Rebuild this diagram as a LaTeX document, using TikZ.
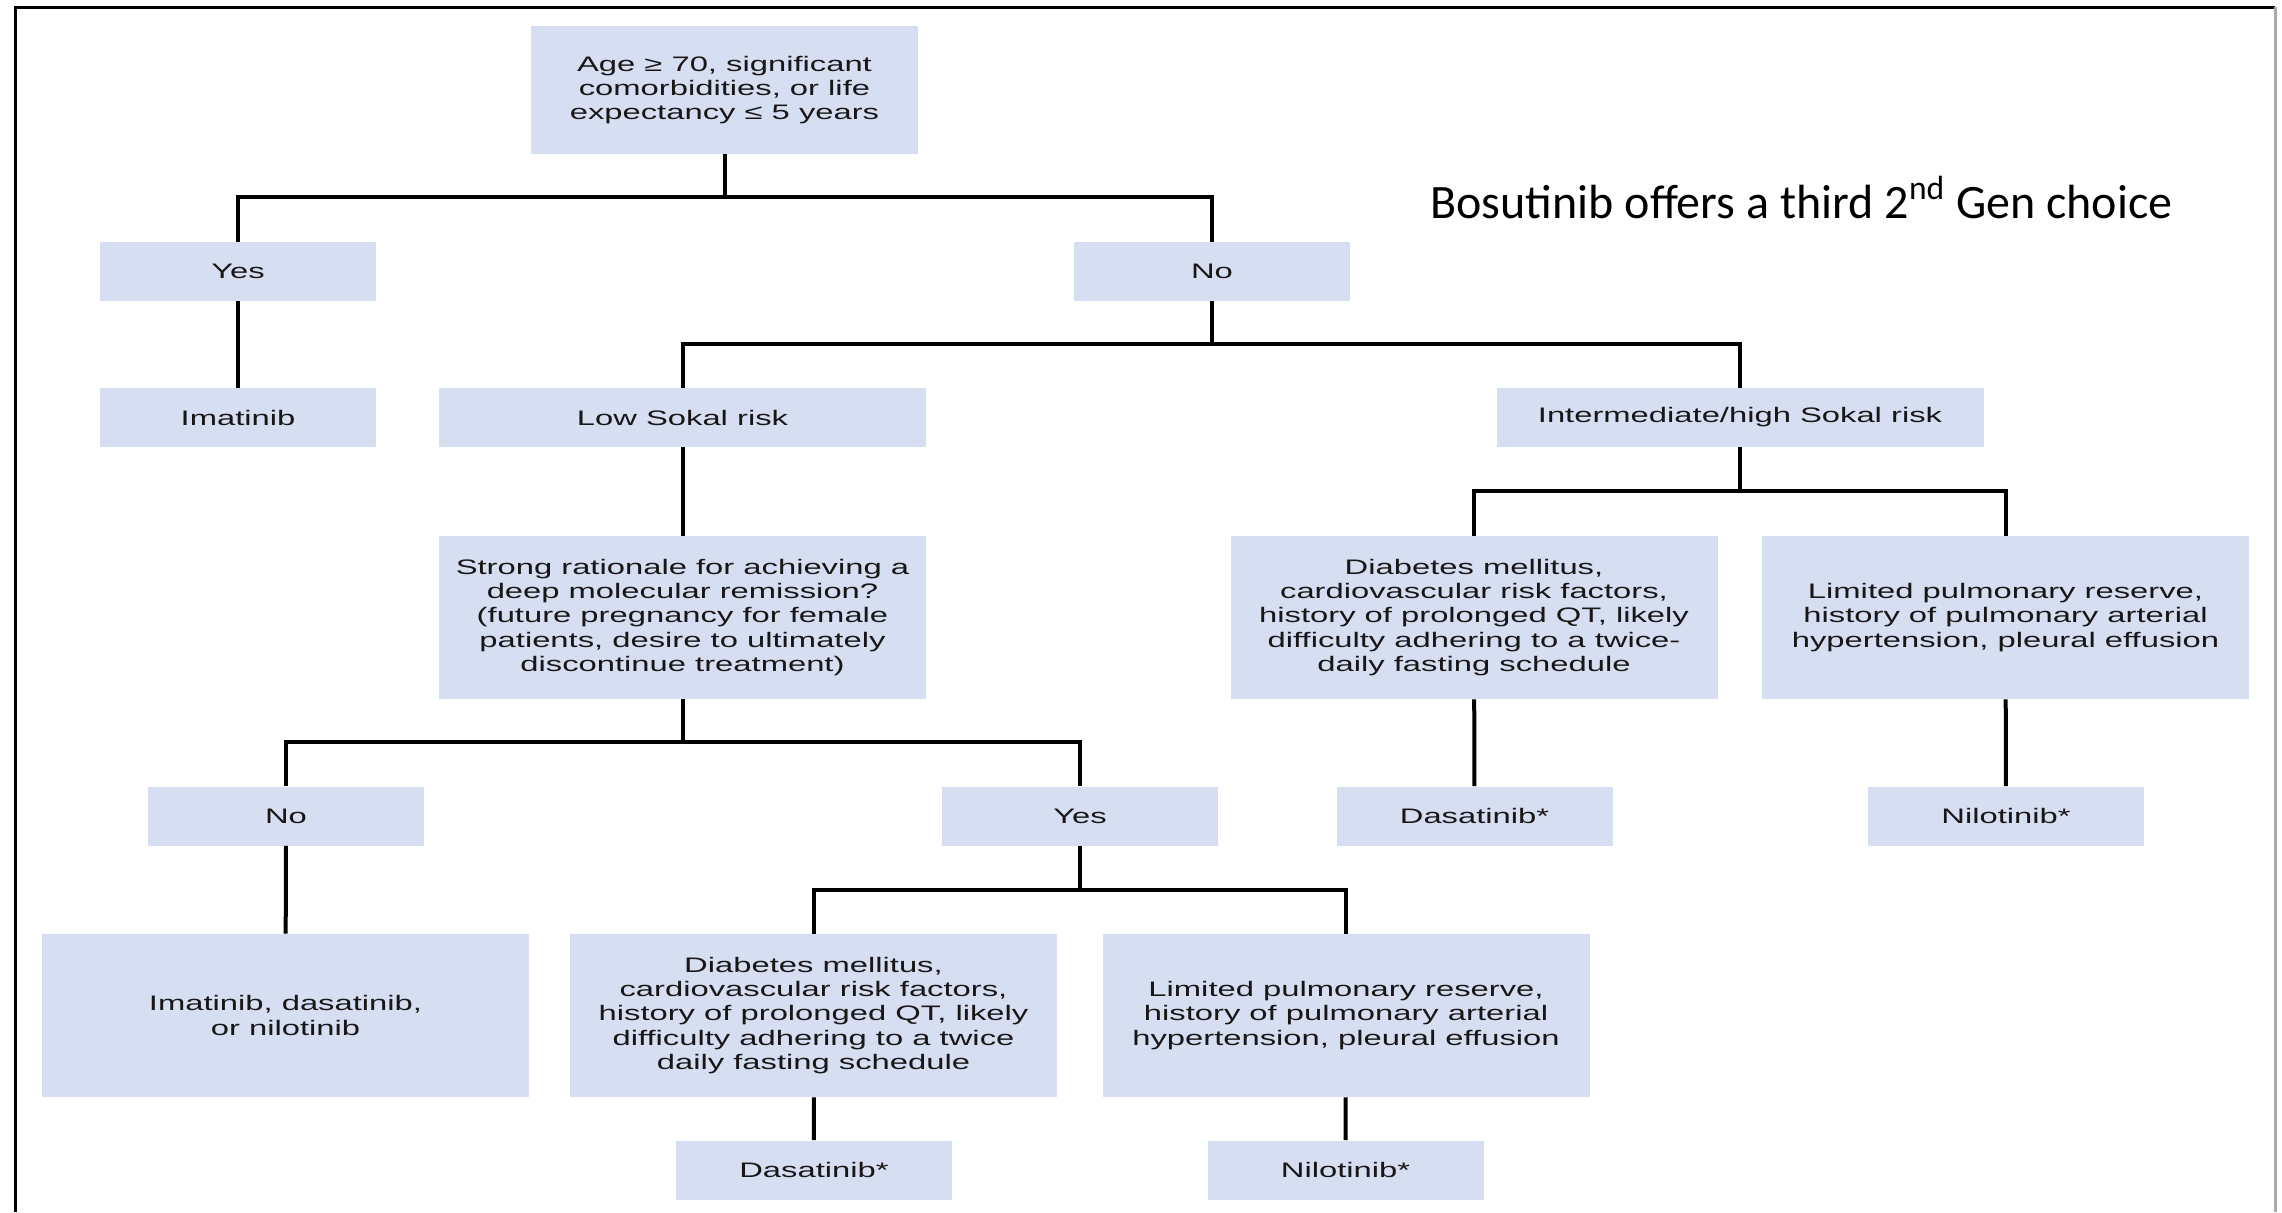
\documentclass[tikz,border=0pt]{standalone}
\usepackage{fontspec}
\usepackage{tikz}
\newfontfamily\boxfont{Liberation Sans}[FakeStretch=1.56]
\newfontfamily\notefont{Carlito}
\definecolor{boxfill}{RGB}{214,223,242}
\definecolor{framegray}{RGB}{170,170,170}
\definecolor{ink}{RGB}{25,22,23}

\begin{document}
\begin{tikzpicture}[
    x=0.5pt, y=-0.5pt,
    box/.style={rectangle, fill=boxfill, inner sep=0pt, align=center, text=ink,
                font=\boxfont\fontsize{10.5pt}{12.2pt}\selectfont},
    shortbox/.style={box, minimum width=138pt, minimum height=29.5pt},
    widebox/.style={box, minimum width=243.5pt, minimum height=29.5pt},
    tallbox/.style={box, minimum width=243.5pt, minimum height=81.5pt},
    link/.style={line width=2pt, color=black}
  ]
    \useasboundingbox (0,0) rectangle (2282,1212);

    % frame
    \draw[line width=1.5pt] (15,1212) -- (15,7) -- (2275,7);
    \draw[line width=1.5pt, framegray] (2275,7) -- (2275,1212);

    \node[box, minimum width=193.5pt, minimum height=64pt] (root) at (724.5,90)
      {Age ≥ 70, significant\\comorbidities, or life\\expectancy ≤ 5 years};
    \node[shortbox] (yes1) at (238,271.5) {Yes};
    \node[shortbox] (no1) at (1212,271.5) {No};
    \node[shortbox] (imatinib) at (238,417.5) {Imatinib};
    \node[widebox] (lowrisk) at (682.5,417.5) {Low Sokal risk};
    \node[widebox] (highrisk) at (1740,417.5) {Intermediate/high Sokal risk};
    \node[tallbox] (rationale) at (682.5,617.5)
      {Strong rationale for achieving a\\deep molecular remission?\\(future pregnancy for female\\patients, desire to ultimately\\discontinue treatment)};
    \node[tallbox] (diabA) at (1474,617.5)
      {Diabetes mellitus,\\cardiovascular risk factors,\\history of prolonged QT, likely\\difficulty adhering to a twice-\\daily fasting schedule};
    \node[tallbox] (pulmA) at (2005.5,617.5)
      {Limited pulmonary reserve,\\history of pulmonary arterial\\hypertension, pleural effusion};
    \node[shortbox] (no2) at (286,816) {No};
    \node[shortbox] (yes2) at (1080,816) {Yes};
    \node[shortbox] (dasaA) at (1474.5,816) {Dasatinib*};
    \node[shortbox] (niloA) at (2006,816) {Nilotinib*};
    \node[tallbox] (anytki) at (285.5,1015.5) {Imatinib, dasatinib,\\or nilotinib};
    \node[tallbox] (diabB) at (813.5,1015.5)
      {Diabetes mellitus,\\cardiovascular risk factors,\\history of prolonged QT, likely\\difficulty adhering to a twice\\daily fasting schedule};
    \node[tallbox] (pulmB) at (1346,1015.5)
      {Limited pulmonary reserve,\\history of pulmonary arterial\\hypertension, pleural effusion};
    \node[shortbox] (dasaB) at (814,1170) {Dasatinib*};
    \node[shortbox] (niloB) at (1345.5,1170) {Nilotinib*};

    \node[anchor=base west, inner sep=0pt, font=\notefont\fontsize{24pt}{28pt}\selectfont] (bosutinib) at (1430,218)
      {Bosutinib offers a third 2\textsuperscript{nd} Gen choice};

    % branches
    \draw[link] (root.south) -- ++(0,43) -| (yes1.north);
    \draw[link] (root.south) -- ++(0,43) -| (no1.north);
    \draw[link] (yes1) -- (imatinib);
    \draw[link] (no1.south) -- ++(0,43) -| (lowrisk.north);
    \draw[link] (no1.south) -- ++(0,43) -| (highrisk.north);
    \draw[link] (lowrisk) -- (rationale);
    \draw[link] (highrisk.south) -- ++(0,44) -| (diabA.north);
    \draw[link] (highrisk.south) -- ++(0,44) -| (pulmA.north);
    \draw[link] (diabA) -- (dasaA);
    \draw[link] (pulmA) -- (niloA);
    \draw[link] (rationale.south) -- ++(0,43) -| (no2.north);
    \draw[link] (rationale.south) -- ++(0,43) -| (yes2.north);
    \draw[link] (no2) -- (anytki);
    \draw[link] (yes2.south) -- ++(0,44) -| (diabB.north);
    \draw[link] (yes2.south) -- ++(0,44) -| (pulmB.north);
    \draw[link] (diabB) -- (dasaB);
    \draw[link] (pulmB) -- (niloB);
  \end{tikzpicture}
\end{document}
